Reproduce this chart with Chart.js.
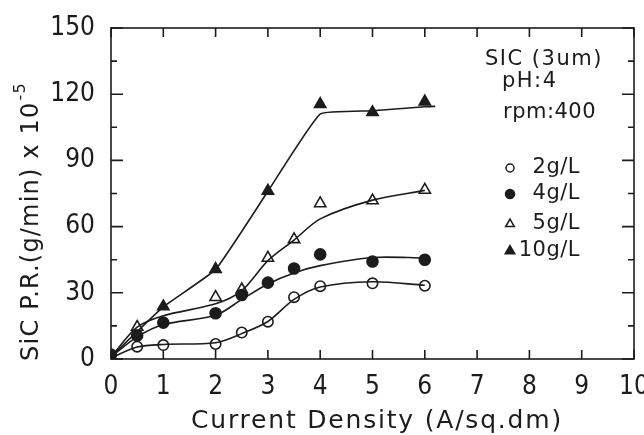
<!DOCTYPE html>
<html>
<head>
<meta charset="utf-8">
<script src="https://cdn.jsdelivr.net/npm/chart.js@4.4.0/dist/chart.umd.min.js"></script>
<style>
html, body { margin: 0; padding: 0; background: #fff; }
</style>
</head>
<body>
<canvas id="chart" width="644" height="435"></canvas>
<script>
var seriesNames = ['2g/L', '4g/L', '5g/L', '10g/L'];

var pts2x = [0.5, 1, 2, 2.5, 3, 3.5, 4, 5, 6];
var pts2y = [5.6, 6.3, 6.8, 12, 16.9, 28, 33, 34.3, 33.2];

var pts4x = [0, 0.5, 1, 2, 2.5, 3, 3.5, 4, 5, 6];
var pts4y = [2, 10.6, 16.5, 20.7, 29, 34.6, 41, 47.4, 44.2, 45];

var pts5x = [0.5, 2, 2.5, 3, 3.5, 4, 5, 6];
var pts5y = [14.5, 28, 31.5, 45.8, 54.2, 70.5, 71.8, 76.6];

var pts10x = [1, 2, 3, 4, 5, 6];
var pts10y = [23.8, 40.7, 76.2, 115.5, 111.8, 116.6];

// hand drawn fit curves
var fit2x = [0, 0.5, 1, 2, 2.5, 3, 3.5, 4, 5, 6];
var fit2y = [0.5, 5.4, 6.6, 7.4, 11.5, 17, 27, 32.6, 35, 33.4];

var fit4x = [0, 0.5, 1, 2, 2.5, 3, 3.5, 4, 5, 6];
var fit4y = [1, 10, 15.6, 19.8, 27, 34, 39, 42.3, 46, 45.8];

var fit5x = [0, 0.5, 1, 2, 2.5, 3, 3.5, 4, 5, 6];
var fit5y = [1, 14.4, 19.6, 25, 31, 44.6, 53.9, 63.5, 72, 76.4];

var fit10x = [0, 1, 2, 3, 4, 5, 6, 6.2];
var fit10y = [1, 23.6, 40.6, 76, 111, 112.5, 114.3, 114.5];

var noteLines = ['SIC (3um)', 'pH:4', 'rpm:400'];
var xTitle = 'Current Density (A/sq.dm)';
var yTitle = 'SiC P.R.(g/min) x 10';
var yTitleSup = '-5';

var ink = '#1c1c1c';
var tickFont = "'DejaVu Sans Condensed', 'Liberation Sans Narrow', 'DejaVu Sans', sans-serif";
var textFont = "'DejaVu Sans', sans-serif";

function zip(xs, ys) {
    return xs.map(function(x, i) { return {x: x, y: ys[i]}; });
}

var marks = [
    {style: 'circle',   fill: '#fff', radius: 5.2, key: 4},
    {style: 'circle',   fill: ink,    radius: 5.5, key: 4.5},
    {style: 'triangle', fill: '#fff', radius: 6.5, key: 5},
    {style: 'triangle', fill: ink,    radius: 6.5, key: 5.5}
];

function fitSet(xs, ys, tension) {
    return {
        data: zip(xs, ys), showLine: true, pointRadius: 0,
        borderColor: ink, borderWidth: 1.6, tension: tension
    };
}

function ptSet(xs, ys, m) {
    return {
        data: zip(xs, ys), showLine: false, pointStyle: m.style, pointRadius: m.radius,
        pointBackgroundColor: m.fill, pointBorderColor: ink, pointBorderWidth: 1.6
    };
}

var datasets = [
    fitSet(fit2x, fit2y, 0.3), fitSet(fit4x, fit4y, 0.3), fitSet(fit5x, fit5y, 0.3), fitSet(fit10x, fit10y, 0.12),
    ptSet(pts2x, pts2y, marks[0]), ptSet(pts4x, pts4y, marks[1]),
    ptSet(pts5x, pts5y, marks[2]), ptSet(pts10x, pts10y, marks[3])
];

// box, inward ticks, titles, notes and legend
var decor = {
    id: 'decor',
    beforeDatasetsDraw: function(chart) {
        var ctx = chart.ctx, a = chart.chartArea;
        var xs = chart.scales.x, ys = chart.scales.y;
        ctx.save();
        ctx.strokeStyle = ink;
        ctx.lineWidth = 1.6;
        ctx.strokeRect(a.left, a.top, a.right - a.left, a.bottom - a.top);
        ctx.beginPath();
        xs.ticks.forEach(function(t) {
            var px = xs.getPixelForValue(t.value);
            ctx.moveTo(px, a.bottom); ctx.lineTo(px, a.bottom - 9);
            ctx.moveTo(px, a.top); ctx.lineTo(px, a.top + 9);
        });
        ys.ticks.forEach(function(t) {
            var py = ys.getPixelForValue(t.value);
            var len = t.value % 30 === 0 ? 12 : 6;
            ctx.moveTo(a.left, py); ctx.lineTo(a.left + len, py);
            ctx.moveTo(a.right, py); ctx.lineTo(a.right - len, py);
        });
        ctx.stroke();
        ctx.restore();
    },
    afterDraw: function(chart) {
        var ctx = chart.ctx;
        ctx.save();
        ctx.fillStyle = ink;
        ctx.textBaseline = 'middle';

        // x axis title
        ctx.letterSpacing = '1.8px';
        ctx.font = '25px ' + textFont;
        ctx.textAlign = 'center';
        ctx.fillText(xTitle, 377, 421);

        // y axis title, rotated, with superscript
        ctx.textAlign = 'left';
        ctx.letterSpacing = '1.2px';
        ctx.translate(32, 222);
        ctx.rotate(-Math.PI / 2);
        ctx.font = '24px ' + textFont;
        var w1 = ctx.measureText(yTitle).width;
        ctx.font = '16px ' + textFont;
        var w2 = ctx.measureText(yTitleSup).width;
        var start = -(w1 + w2) / 2;
        ctx.font = '24px ' + textFont;
        ctx.fillText(yTitle, start, 0);
        ctx.font = '16px ' + textFont;
        ctx.fillText(yTitleSup, start + w1 + 1, -11);
        ctx.setTransform(1, 0, 0, 1, 0, 0);

        // notes in the corner
        ctx.letterSpacing = '1.5px';
        ctx.font = '21px ' + textFont;
        ctx.fillText(noteLines[0], 485, 60);
        ctx.fillText(noteLines[1], 502, 82);
        ctx.letterSpacing = '0.5px';
        ctx.fillText(noteLines[2], 503, 113);

        // legend
        var rows = [168, 194, 224, 251];
        ctx.textAlign = 'right';
        ctx.letterSpacing = '0.5px';
        seriesNames.forEach(function(name, i) {
            var m = marks[i];
            ctx.fillStyle = m.fill;
            ctx.strokeStyle = ink;
            ctx.lineWidth = 1.5;
            Chart.helpers.drawPoint(ctx, {pointStyle: m.style, radius: m.key, borderWidth: 1.5, rotation: 0}, 510, rows[i]);
            ctx.fillStyle = ink;
            ctx.fillText(name, 580, rows[i]);
        });
        ctx.restore();
    }
};

new Chart(document.getElementById('chart'), {
    type: 'scatter',
    data: {datasets: datasets},
    options: {
        responsive: false,
        animation: false,
        layout: {padding: {top: 28, right: 10, left: 0, bottom: 0}},
        plugins: {legend: {display: false}, tooltip: {enabled: false}},
        scales: {
            x: {
                type: 'linear', min: 0, max: 10,
                grid: {display: false}, border: {display: false},
                ticks: {stepSize: 1, autoSkip: false, maxRotation: 0, padding: 5, color: ink,
                        font: {family: tickFont, size: 26}},
                afterFit: function(s) { s.height = 76; s.paddingLeft = 0; s.paddingRight = 0; }
            },
            y: {
                type: 'linear', min: 0, max: 150,
                grid: {display: false}, border: {display: false},
                ticks: {stepSize: 15, autoSkip: false, padding: 8, color: ink,
                        font: {family: tickFont, size: 26},
                        callback: function(v) { return v % 30 === 0 ? v : ''; }},
                afterFit: function(s) { s.width = 111; s.paddingTop = 0; s.paddingBottom = 0; }
            }
        }
    },
    plugins: [decor]
});
</script>
</body>
</html>
